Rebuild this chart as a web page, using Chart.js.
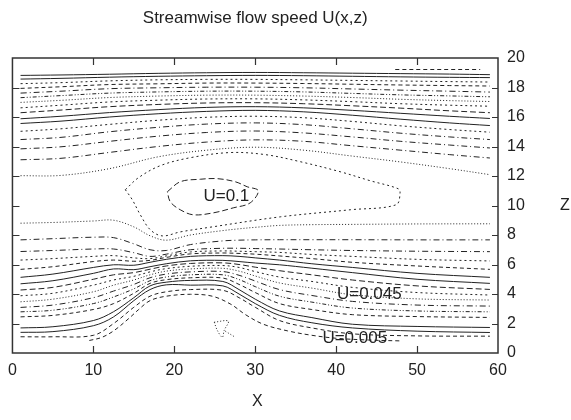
<!DOCTYPE html>
<html>
<head>
<meta charset="utf-8">
<script src="https://cdn.jsdelivr.net/npm/chart.js@4.4.1/dist/chart.umd.min.js"></script>
<style>
  body { margin: 0; background: #fff; }
  #wrap { width: 571px; height: 420px; }
</style>
</head>
<body>
<div id="wrap"><canvas id="flow" width="571" height="420"></canvas></div>
<script>
// axis ticks
const xTicks = [0, 10, 20, 30, 40, 50, 60];
const zTicks = [0, 2, 4, 6, 8, 10, 12, 14, 16, 18, 20];

// x stations for the lower (bump side) contours
const xLow = [1, 5, 10, 12.5, 15, 17, 19, 22, 26, 28, 30, 33, 37, 42, 50, 59];
const b1  = [1.1, 1.1, 1.2, 2.0, 3.1, 3.85, 4.15, 4.3, 4.25, 3.75, 3.1, 2.2, 1.7, 1.3, 1.16, 1.14];
const b2  = [1.4, 1.45, 1.85, 2.45, 3.55, 4.3, 4.62, 4.6, 4.55, 4.0, 3.35, 2.55, 2.05, 1.7, 1.48, 1.39];
const b3  = [1.7, 1.78, 2.2, 2.8, 3.75, 4.55, 4.8, 4.92, 4.85, 4.3, 3.65, 2.85, 2.4, 1.95, 1.8, 1.73];
const b4  = [2.45, 2.55, 2.95, 3.35, 4.05, 4.72, 4.97, 5.1, 5.08, 4.65, 4.1, 3.35, 2.95, 2.6, 2.47, 2.41];
const b5  = [2.79, 2.9, 3.35, 3.8, 4.35, 4.9, 5.15, 5.3, 5.3, 4.98, 4.5, 3.85, 3.45, 3.05, 2.85, 2.79];
const b6  = [3.09, 3.25, 3.75, 4.2, 4.65, 5.1, 5.35, 5.5, 5.52, 5.27, 4.88, 4.3, 3.9, 3.5, 3.25, 3.18];
const b7  = [3.47, 3.65, 4.15, 4.6, 4.95, 5.3, 5.55, 5.7, 5.74, 5.55, 5.22, 4.75, 4.4, 3.95, 3.67, 3.59];
const b8  = [3.88, 4.05, 4.6, 4.95, 5.2, 5.5, 5.72, 5.88, 5.93, 5.8, 5.52, 5.15, 4.85, 4.45, 4.1, 3.93];
const b9  = [4.27, 4.45, 5.0, 5.3, 5.45, 5.68, 5.9, 6.07, 6.11, 6.0, 5.82, 5.58, 5.3, 4.95, 4.55, 4.31];
const b10 = [4.69, 4.9, 5.4, 5.7, 5.65, 5.85, 6.05, 6.25, 6.28, 6.2, 6.1, 5.98, 5.75, 5.45, 5.0, 4.72];
const b11 = [5.13, 5.35, 5.8, 5.98, 5.95, 6.15, 6.35, 6.55, 6.6, 6.55, 6.45, 6.3, 6.05, 5.8, 5.4, 5.13];
const b12 = [5.67, 5.85, 6.2, 6.3, 6.22, 6.28, 6.48, 6.72, 6.78, 6.75, 6.7, 6.58, 6.4, 6.15, 5.9, 5.67];
const b13 = [6.3, 6.4, 6.55, 6.6, 6.45, 6.4, 6.58, 6.85, 6.92, 6.9, 6.87, 6.82, 6.68, 6.55, 6.35, 6.24];
const b14 = [6.88, 6.95, 7.05, 7.05, 6.8, 6.55, 6.7, 7.0, 7.1, 7.1, 7.08, 7.05, 7.0, 6.95, 6.9, 6.87];
const b15 = [7.67, 7.75, 7.85, 7.82, 7.4, 7.0, 6.95, 7.35, 7.6, 7.65, 7.67, 7.68, 7.68, 7.68, 7.67, 7.67];
const b16 = [8.8, 8.85, 8.95, 9.0, 8.55, 7.95, 7.65, 8.0, 8.3, 8.42, 8.52, 8.65, 8.7, 8.72, 8.75, 8.76];

// x stations for the upper contours
const xHigh = [1, 6, 12, 18, 24, 30, 36, 42, 48, 54, 59];
const t1  = [18.82, 18.85, 18.9, 18.96, 19.0, 19.02, 19.0, 18.97, 18.94, 18.91, 18.87];
const t2  = [18.57, 18.62, 18.7, 18.76, 18.8, 18.82, 18.8, 18.76, 18.72, 18.69, 18.67];
const t3  = [18.26, 18.33, 18.45, 18.52, 18.55, 18.55, 18.52, 18.48, 18.44, 18.4, 18.37];
const t4  = [17.94, 18.05, 18.2, 18.25, 18.3, 18.3, 18.27, 18.22, 18.17, 18.13, 18.1];
const t5  = [17.62, 17.75, 17.92, 17.98, 18.02, 18.02, 17.98, 17.9, 17.82, 17.75, 17.69];
const t6  = [17.31, 17.45, 17.62, 17.7, 17.75, 17.75, 17.7, 17.6, 17.5, 17.43, 17.37];
const t7  = [16.99, 17.13, 17.32, 17.42, 17.48, 17.48, 17.42, 17.32, 17.2, 17.11, 17.05];
const t8  = [16.62, 16.8, 17.02, 17.14, 17.22, 17.23, 17.16, 17.04, 16.9, 16.8, 16.73];
const t9  = [16.29, 16.47, 16.7, 16.85, 16.95, 16.97, 16.9, 16.76, 16.6, 16.42, 16.29];
const t10 = [15.88, 16.05, 16.3, 16.5, 16.65, 16.7, 16.62, 16.45, 16.25, 16.05, 15.9];
const t11 = [15.56, 15.72, 16.0, 16.22, 16.38, 16.45, 16.35, 16.12, 15.85, 15.6, 15.42];
const t12 = [15.03, 15.2, 15.5, 15.78, 15.98, 16.05, 15.95, 15.7, 15.4, 15.15, 14.97];
const t13 = [14.47, 14.62, 15.0, 15.3, 15.52, 15.6, 15.48, 15.2, 14.9, 14.65, 14.47];
const t14 = [13.84, 13.98, 14.35, 14.7, 14.95, 15.05, 14.92, 14.65, 14.35, 14.1, 13.9];
const t15 = [13.1, 13.2, 13.6, 14.0, 14.3, 14.45, 14.35, 14.05, 13.75, 13.45, 13.22];
const t16 = [12.02, 12.04, 12.5, 13.3, 13.75, 13.95, 13.75, 13.35, 12.95, 12.5, 12.09];

// contours given as (x, z) pairs
const b0 = [[9.5, 0.85], [11, 1.05], [12.5, 1.5], [14.4, 2.35], [15.6, 2.95], [17, 3.55], [19, 3.85],
  [22, 3.98], [24.7, 3.85], [27, 3.3], [28.8, 2.6], [31, 1.95], [34, 1.5], [37, 1.2], [40, 1.0],
  [44, 0.88], [48, 0.82]];
const outerLoop = [[13.95, 11.07], [15.56, 11.88], [18.27, 12.7], [21.98, 13.24], [26.91, 13.59],
  [31.23, 13.45], [35.56, 12.97], [40.49, 12.29], [44.2, 11.68], [47.65, 11.14], [47.9, 10.86],
  [47.41, 10.05], [41.73, 9.71], [33.09, 9.23], [24.69, 8.55], [20.74, 8.21], [18.52, 7.94],
  [17.04, 8.35], [15.8, 9.37], [14.81, 10.39], [13.95, 11.07]];
const coreLoop = [[19.14, 10.93], [20.74, 11.61], [23.21, 11.78], [25.31, 11.82], [27.53, 11.61],
  [29.01, 11.27], [30.37, 11.0], [29.38, 10.18], [27.28, 9.84], [24.81, 9.5], [22.35, 9.37],
  [20.74, 9.71], [19.51, 10.25], [19.14, 10.93]];
const wakeLoop = [[24.94, 2.09], [26.67, 2.16], [26.17, 1.54], [25.93, 1.07], [25.31, 1.54], [24.94, 2.09]];
const wakeTail = [[26.3, 1.48], [27.53, 1.07]];
const topPiece = [[47.3, 19.22], [57.8, 19.22]];

// level labels: text, x, z
const levelLabels = [["U=0.1", 23.6, 10.6], ["U=0.045", 40.1, 3.99], ["U=0.005", 38.3, 1.0]];

// dash patterns
const SOLID = [], LDASH = [6, 3], DASH = [4, 3], SDASH = [2, 3], DOT = [1, 2],
  DDOT = [6, 3, 1, 3], DDDOT = [4, 2, 1, 2, 1, 2];

const gridLines = [
  [xLow, b1, DASH], [xLow, b2, SOLID], [xLow, b3, SOLID], [xLow, b4, DASH], [xLow, b5, DDDOT],
  [xLow, b6, DDOT], [xLow, b7, DOT], [xLow, b8, SDASH], [xLow, b9, LDASH], [xLow, b10, SOLID],
  [xLow, b11, SOLID], [xLow, b12, DASH], [xLow, b13, SDASH], [xLow, b14, DDOT], [xLow, b15, DDOT],
  [xLow, b16, DOT],
  [xHigh, t1, SOLID], [xHigh, t2, SOLID], [xHigh, t3, SDASH], [xHigh, t4, DASH], [xHigh, t5, DDOT],
  [xHigh, t6, DDDOT], [xHigh, t7, DOT], [xHigh, t8, SDASH], [xHigh, t9, LDASH], [xHigh, t10, SOLID],
  [xHigh, t11, SOLID], [xHigh, t12, SDASH], [xHigh, t13, DDOT], [xHigh, t14, DDOT], [xHigh, t15, DDOT],
  [xHigh, t16, DOT]
];
const pairLines = [
  [b0, DASH], [outerLoop, SDASH], [coreLoop, LDASH], [wakeLoop, DOT], [wakeTail, DOT], [topPiece, DASH]
];

function contour(points, dash) {
  return {
    data: points,
    showLine: true,
    borderColor: '#222',
    borderWidth: 1,
    borderDash: dash,
    pointRadius: 0,
    tension: 0.35,
    fill: false
  };
}

const datasets = [
  ...gridLines.map(([xs, zs, dash]) => contour(xs.map((x, i) => ({ x: x, y: zs[i] })), dash)),
  ...pairLines.map(([pts, dash]) => contour(pts.map(p => ({ x: p[0], y: p[1] })), dash))
];

const FONT = "'Liberation Sans', Arial, sans-serif";
Chart.defaults.font.family = FONT;
Chart.defaults.color = '#222';

// frame, inward ticks and the free text
const framePlugin = {
  id: 'frame',
  afterDraw(chart) {
    const { ctx, chartArea: a } = chart;
    const sx = chart.scales.x, sy = chart.scales.y;
    ctx.save();
    ctx.strokeStyle = '#333';
    ctx.lineWidth = 1.5;
    ctx.setLineDash([]);
    ctx.strokeRect(a.left, a.top, a.right - a.left, a.bottom - a.top);
    ctx.beginPath();
    xTicks.slice(1, -1).forEach(v => {
      const px = Math.round(sx.getPixelForValue(v)) + 0.5;
      ctx.moveTo(px, a.bottom); ctx.lineTo(px, a.bottom - 7);
      ctx.moveTo(px, a.top); ctx.lineTo(px, a.top + 7);
    });
    zTicks.slice(1, -1).forEach(v => {
      const py = Math.round(sy.getPixelForValue(v)) + 0.5;
      ctx.moveTo(a.left, py); ctx.lineTo(a.left + 7, py);
      ctx.moveTo(a.right, py); ctx.lineTo(a.right - 6, py);
    });
    ctx.lineWidth = 1.2;
    ctx.stroke();

    ctx.fillStyle = '#222';
    ctx.textBaseline = 'middle';
    ctx.textAlign = 'center';
    ctx.font = '17px ' + FONT;
    ctx.fillText('Streamwise flow speed U(x,z)', (a.left + a.right) / 2, 18);
    ctx.font = '16px ' + FONT;
    ctx.fillText('X', (a.left + a.right) / 2 + 2, 402);
    ctx.fillText('Z', 565, sy.getPixelForValue(10));

    ctx.textAlign = 'left';
    ctx.font = '17px ' + FONT;
    levelLabels.forEach(([txt, x, z]) => {
      ctx.fillText(txt, sx.getPixelForValue(x), sy.getPixelForValue(z));
    });
    ctx.restore();
  }
};

new Chart(document.getElementById('flow'), {
  type: 'scatter',
  data: { datasets: datasets },
  plugins: [framePlugin],
  options: {
    responsive: false,
    animation: false,
    devicePixelRatio: 1,
    layout: { padding: { left: 12, top: 58, right: 0, bottom: 0 } },
    plugins: { legend: { display: false }, tooltip: { enabled: false } },
    scales: {
      x: {
        type: 'linear',
        position: 'bottom',
        min: 0,
        max: 60,
        afterFit(scale) { scale.height = 67; },
        afterBuildTicks(scale) { scale.ticks = xTicks.map(v => ({ value: v })); },
        grid: { display: false, drawTicks: false },
        border: { display: false },
        ticks: { padding: 8, font: { size: 16 }, color: '#222' }
      },
      y: {
        type: 'linear',
        position: 'right',
        min: 0,
        max: 20,
        afterFit(scale) { scale.width = 73; },
        afterBuildTicks(scale) { scale.ticks = zTicks.map(v => ({ value: v })); },
        grid: { display: false, drawTicks: false },
        border: { display: false },
        ticks: { padding: 9, font: { size: 16 }, color: '#222' }
      }
    }
  }
});
</script>
</body>
</html>
